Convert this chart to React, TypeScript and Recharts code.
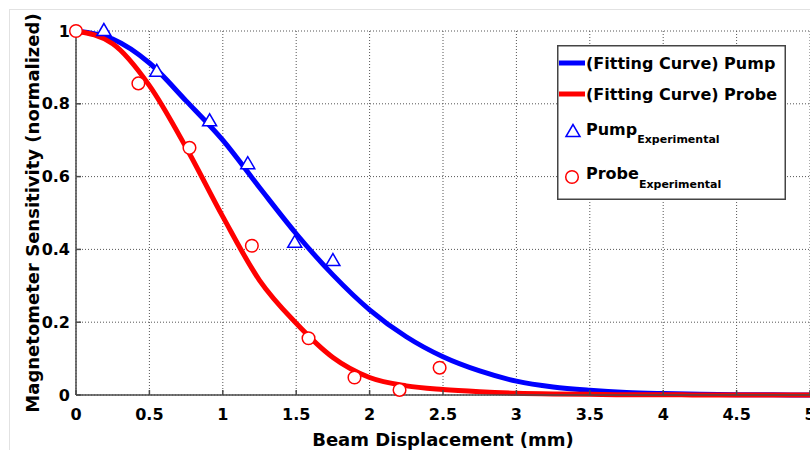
import React from "react";
import {
  ComposedChart,
  Line,
  Scatter,
  XAxis,
  YAxis,
  CartesianGrid,
  Legend,
  Label,
} from "recharts";

// fitting curves, every 0.25 mm
const fitX = [0, 0.25, 0.5, 0.75, 1, 1.25, 1.5, 1.75, 2, 2.25, 2.5, 2.75, 3, 3.25, 3.5, 3.75, 4, 4.25, 4.5, 4.75, 5];
const pumpFit = [1.0, 0.978, 0.912, 0.808, 0.7, 0.57, 0.443, 0.33, 0.234, 0.16, 0.105, 0.066, 0.038, 0.022, 0.013, 0.007, 0.004, 0.002, 0.001, 0.0005, 0];
const probeFit = [1.0, 0.965, 0.85, 0.68, 0.49, 0.315, 0.197, 0.103, 0.048, 0.025, 0.015, 0.009, 0.005, 0.003, 0.002, 0.001, 0.001, 0, 0, 0, 0];

// experimental points
const pumpExpX = [0.19, 0.55, 0.91, 1.17, 1.49, 1.75];
const pumpExpY = [1.0, 0.888, 0.752, 0.634, 0.418, 0.368];
const probeExpX = [0, 0.425, 0.773, 1.198, 1.584, 1.897, 2.204, 2.477];
const probeExpY = [1.0, 0.856, 0.679, 0.41, 0.156, 0.048, 0.014, 0.075];

const xTicks = [0, 0.5, 1, 1.5, 2, 2.5, 3, 3.5, 4, 4.5, 5];
const yTicks = [0, 0.2, 0.4, 0.6, 0.8, 1];

const fitData = fitX.map((x, i) => ({ x, pump: pumpFit[i], probe: probeFit[i] }));
const pumpExp = pumpExpX.map((x, i) => ({ x, y: pumpExpY[i] }));
const probeExp = probeExpX.map((x, i) => ({ x, y: probeExpY[i] }));

const FONT = "'DejaVu Sans', sans-serif";
const BLUE = "#0000ff";
const RED = "#ff0000";
const AXIS = "#4a4a4a";

const Triangle = (props: any) => {
  const { cx, cy } = props;
  if (cx == null || cy == null) return null;
  return (
    <path
      d={`M${cx},${cy - 7.5} L${cx - 7},${cy + 4.5} L${cx + 7},${cy + 4.5} Z`}
      fill="#fff"
      stroke={BLUE}
      strokeWidth={1.5}
    />
  );
};

const Circle = (props: any) => {
  const { cx, cy } = props;
  if (cx == null || cy == null) return null;
  return <circle cx={cx} cy={cy} r={6.3} fill="#fff" stroke={RED} strokeWidth={1.5} />;
};

const renderLegend = () => (
  <svg width={229} height={155} style={{ display: "block" }}>
    <rect x={0.75} y={0.75} width={227.5} height={153.5} fill="#fff" stroke="#444" strokeWidth={1.5} />
    <g fontFamily={FONT} fontWeight="bold" fontSize={16} fill="#000">
      <line x1={2} x2={28} y1={18} y2={18} stroke={BLUE} strokeWidth={5} />
      <text x={29} y={24}>(Fitting Curve) Pump</text>
      <line x1={2} x2={28} y1={49} y2={49} stroke={RED} strokeWidth={5} />
      <text x={29} y={55}>(Fitting Curve) Probe</text>
      <Triangle cx={16} cy={87} />
      <text x={29} y={90}>
        Pump
        <tspan fontSize={11} dy={8}>Experimental</tspan>
      </text>
      <Circle cx={15} cy={132} />
      <text x={29} y={134}>
        Probe
        <tspan fontSize={11} dy={9}>Experimental</tspan>
      </text>
    </g>
  </svg>
);

export default function App() {
  return (
    <div
      style={{
        position: "absolute",
        left: 0,
        top: 0,
        width: 810,
        height: 450,
        overflow: "hidden",
        background: "#fff",
      }}
    >
      <div
        style={{
          position: "absolute",
          left: 9,
          top: 9,
          right: 0,
          bottom: -2,
          borderLeft: "1px solid #e2e2e2",
          borderTop: "1px solid #e2e2e2",
        }}
      />
      <ComposedChart
        width={860}
        height={450}
        data={fitData}
        margin={{ top: 31, right: 50, bottom: 0, left: 0 }}
        style={{ position: "absolute", left: 0, top: 0 }}
      >
        <CartesianGrid stroke="#555" strokeDasharray="1 2" strokeWidth={1} />
        <XAxis
          dataKey="x"
          type="number"
          domain={[0, 5]}
          ticks={xTicks}
          height={55}
          stroke={AXIS}
          strokeWidth={1.5}
          tickSize={-5}
          tickMargin={19}
          tick={{ fontFamily: FONT, fontWeight: "bold", fontSize: 16, fill: "#000" }}
        >
          <Label
            value="Beam Displacement (mm)"
            position="insideBottom"
            offset={4}
            style={{ fontFamily: FONT, fontWeight: "bold", fontSize: 18, fill: "#000" }}
          />
        </XAxis>
        <YAxis
          type="number"
          domain={[0, 1]}
          ticks={yTicks}
          width={76}
          stroke={AXIS}
          strokeWidth={1.5}
          tickSize={-5}
          tickMargin={11}
          tick={{ fontFamily: FONT, fontWeight: "bold", fontSize: 16, fill: "#000" }}
        >
          <Label
            value="Magnetometer Sensitivity (normalized)"
            angle={-90}
            position="insideLeft"
            offset={33}
            style={{ fontFamily: FONT, fontWeight: "bold", fontSize: 18, fill: "#000", textAnchor: "middle" }}
          />
        </YAxis>
        <Line
          dataKey="pump"
          type="monotone"
          stroke={BLUE}
          strokeWidth={5}
          dot={false}
          isAnimationActive={false}
        />
        <Line
          dataKey="probe"
          type="monotone"
          stroke={RED}
          strokeWidth={5}
          dot={false}
          isAnimationActive={false}
        />
        <Scatter data={pumpExp} dataKey="y" shape={Triangle} isAnimationActive={false} />
        <Scatter data={probeExp} dataKey="y" shape={Circle} isAnimationActive={false} />
        <Legend
          layout="vertical"
          align="center"
          verticalAlign="middle"
          content={renderLegend}
          wrapperStyle={{ left: 557, top: 45, width: 229, height: 155 }}
        />
      </ComposedChart>
    </div>
  );
}
